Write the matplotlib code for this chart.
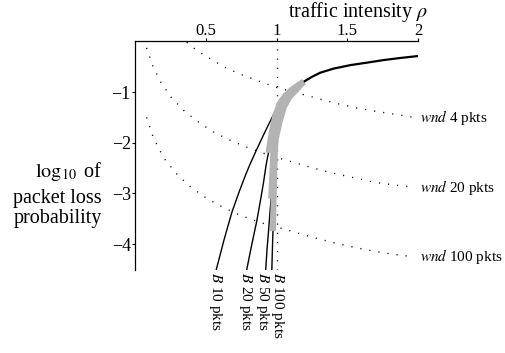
import matplotlib
matplotlib.use('Agg')
import matplotlib.pyplot as plt

plt.rcParams['font.family'] = ['Liberation Serif', 'DejaVu Serif']
plt.rcParams['mathtext.fontset'] = 'stix'
plt.rcParams['axes.unicode_minus'] = True

# ---------------- data ----------------
x_ticks = [0.5, 1, 1.5, 2]
x_tick_labels = ['0.5', '1', '1.5', '2']
y_ticks = [-1, -2, -3, -4]
y_tick_labels = ['\u22121', '\u22122', '\u22123', '\u22124']

# TCP window curves (dotted)
wnd_names = [r'$\mathit{wnd}$ 4 pkts', r'$\mathit{wnd}$ 20 pkts', r'$\mathit{wnd}$ 100 pkts']
wnd4_rho = [0.365, 0.44, 0.518, 0.631, 0.754, 0.879, 1.0, 1.13, 1.256, 1.40, 1.56, 1.72, 1.86, 1.97]
wnd4_loss = [-0.02, -0.19, -0.32, -0.51, -0.66, -0.79, -0.91, -1.01, -1.10, -1.21, -1.31, -1.39, -1.45, -1.50]
wnd20_rho = [0.082, 0.125, 0.181, 0.254, 0.346, 0.447, 0.56, 0.678, 0.801, 0.86, 0.95, 1.037,
             1.171, 1.30, 1.43, 1.56, 1.69, 1.82, 1.97]
wnd20_loss = [-0.13, -0.48, -0.80, -1.10, -1.37, -1.59, -1.80, -1.96, -2.10, -2.16, -2.25, -2.32,
              -2.43, -2.53, -2.62, -2.70, -2.78, -2.83, -2.88]
wnd100_rho = [0.082, 0.125, 0.153, 0.181, 0.216, 0.299, 0.396, 0.502, 0.619, 0.742, 0.86, 0.95,
              1.037, 1.171, 1.30, 1.43, 1.56, 1.69, 1.82, 1.97]
wnd100_loss = [-1.50, -1.86, -2.03, -2.18, -2.35, -2.63, -2.88, -3.09, -3.27, -3.43, -3.55, -3.63,
               -3.69, -3.80, -3.90, -3.99, -4.07, -4.14, -4.20, -4.25]

# buffer curves (solid), lower individual parts
buf_names = [r'$B$ 10 pkts', r'$B$ 20 pkts', r'$B$ 50 pkts', r'$B$ 100 pkts']
b10_rho = [0.574, 0.63, 0.683, 0.735, 0.78, 0.811, 0.858, 0.905, 0.952, 0.987, 1.011, 1.035,
           1.065, 1.10, 1.135, 1.19]
b10_loss = [-4.50, -3.90, -3.38, -2.97, -2.64, -2.43, -2.14, -1.86, -1.59, -1.40, -1.28, -1.17,
            -1.07, -0.98, -0.91, -0.80]
b20_rho = [0.789, 0.825, 0.86, 0.885, 0.907, 0.925, 0.942, 0.956, 0.972, 0.992, 1.02, 1.06, 1.11, 1.15, 1.19]
b20_loss = [-4.50, -4.00, -3.54, -3.15, -2.79, -2.45, -2.20, -1.95, -1.70, -1.45, -1.25, -1.08, -0.95, -0.87, -0.80]
b50_rho = [0.923, 0.932, 0.942, 0.952, 0.961, 0.968, 0.974, 0.98, 1.0, 1.03, 1.07, 1.12, 1.19]
b50_loss = [-4.50, -4.10, -3.77, -3.40, -3.10, -2.70, -2.30, -1.95, -1.60, -1.30, -1.10, -0.95, -0.80]
b100_rho = [0.966, 0.970, 0.974, 0.978, 0.982, 0.986, 0.992, 1.02, 1.05, 1.09, 1.14, 1.19]
b100_loss = [-4.50, -4.10, -3.74, -3.20, -2.70, -2.30, -1.95, -1.60, -1.30, -1.10, -0.95, -0.80]
# common upper part of all buffer curves
top_rho = [1.19, 1.25, 1.307, 1.40, 1.52, 1.64, 1.755, 1.87, 2.0]
top_loss = [-0.80, -0.70, -0.62, -0.54, -0.47, -0.42, -0.37, -0.33, -0.29]

# highlighted (grey) part of each buffer curve: from this loss level up to top_rho[0]
gray_from_loss = [-1.28, -2.20, -3.10, -3.74]

# ---------------- figure ----------------
fig = plt.figure(figsize=(5.05, 3.53), dpi=100)
ax = fig.add_axes([135 / 505, 1 - 270 / 353, (418.3 - 135) / 505, (270 - 41.3) / 353])
ax.set_xlim(0, 2)
ax.set_ylim(-4.51, 0)

for s in ['right', 'bottom']:
    ax.spines[s].set_visible(False)
for s in ['left', 'top']:
    ax.spines[s].set_linewidth(0.9)

ax.xaxis.tick_top()
ax.set_xticks(x_ticks)
ax.set_xticklabels(x_tick_labels)
ax.set_yticks(y_ticks)
ax.set_yticklabels(y_tick_labels)
ax.tick_params(axis='both', direction='out', length=2.0, width=0.8, labelsize=12)
ax.tick_params(axis='x', pad=0.0)
ax.tick_params(axis='y', pad=1.0, labelsize=13)

dot_style = dict(color='black', lw=1.0, linestyle=(0, (0.8, 5.8)), zorder=1)
wnd_data = [(wnd4_rho, wnd4_loss), (wnd20_rho, wnd20_loss), (wnd100_rho, wnd100_loss)]
for (r, l), name in zip(wnd_data, wnd_names):
    ax.plot(r, l, **dot_style)
    ax.annotate(name, xy=(2.0, l[-1]), xytext=(1, 0), textcoords='offset points',
                ha='left', va='center', fontsize=11, annotation_clip=False)

ax.axvline(1, **dot_style)

buf_data = [(b10_rho, b10_loss), (b20_rho, b20_loss), (b50_rho, b50_loss), (b100_rho, b100_loss)]
label_dx = [-0.6, -0.6, -2.3, 4.4]
for (r, l), name, dx, gfrom in zip(buf_data, buf_names, label_dx, gray_from_loss):
    ax.plot(r, l, color='black', lw=1.0, zorder=2)
    gr = [rv for rv, lv in zip(r, l) if lv >= gfrom]
    gl = [lv for lv in l if lv >= gfrom]
    ax.plot(gr, gl, color='#b3b3b3', lw=4.3, solid_capstyle='butt', solid_joinstyle='round', zorder=3)
    ax.annotate(name, xy=(r[0], l[0]), xytext=(dx, -1.5), textcoords='offset points',
                rotation=-90, ha='center', va='top', fontsize=11, annotation_clip=False)

ax.plot(top_rho, top_loss, color='black', lw=1.6, zorder=2)

fig.text(428 / 505, 1 - 17 / 353, r'traffic intensity $\rho$', ha='right', va='baseline', fontsize=14.5)
for txt, yb in zip([r'$\log_{10}$ of', 'packet loss', 'probability'], [177, 203, 223]):
    fig.text(102 / 505, 1 - yb / 353, txt, ha='right', va='baseline', fontsize=14.5)

fig.savefig('out.png', dpi=100)
